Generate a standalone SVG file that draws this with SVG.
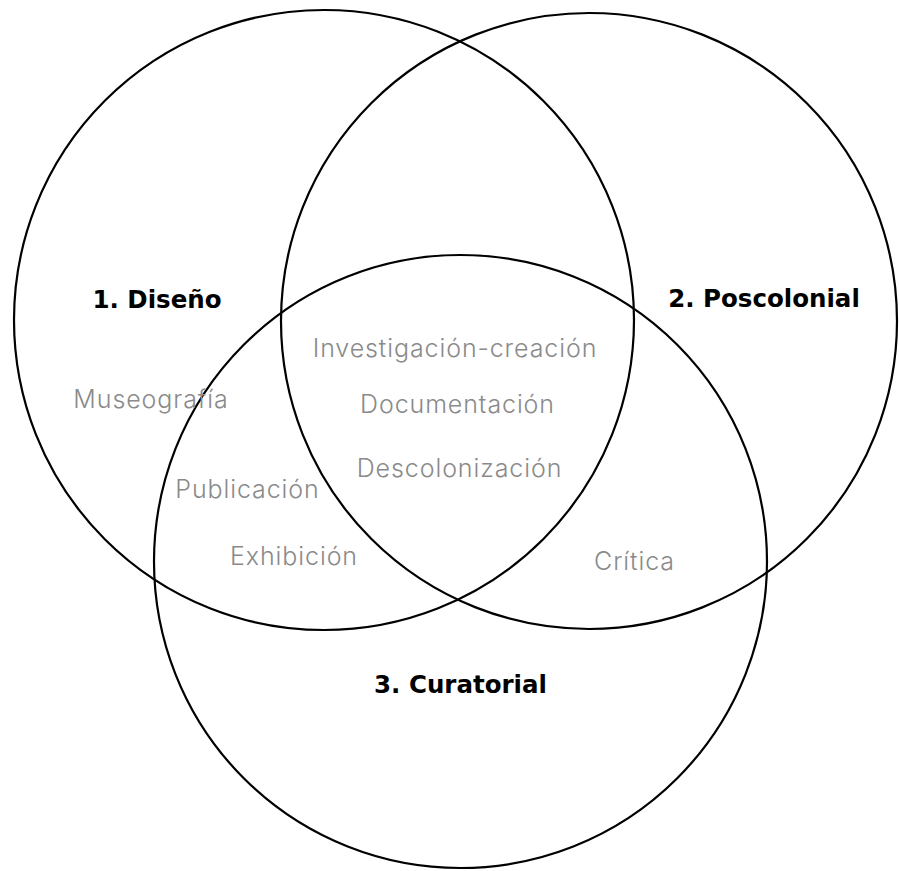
<svg xmlns="http://www.w3.org/2000/svg" width="899" height="871" viewBox="0 0 899 871">
<style>
.c{fill:none;stroke:#000;stroke-width:2.2}
.h{font-family:"DejaVu Sans","Liberation Sans",sans-serif;font-weight:700;font-size:24.5px;fill:#000;text-anchor:middle}
.t{font-family:Inter,"Liberation Sans",sans-serif;font-weight:300;font-size:25px;letter-spacing:0.9px;fill:#8a8a8a;text-anchor:middle}
</style>
<rect width="899" height="871" fill="#fff"/>
<g id="connectors"></g>
<g id="circle-diseno"><circle class="c" cx="324" cy="320" r="310"/></g>
<g id="circle-poscolonial"><circle class="c" cx="589" cy="321" r="308"/></g>
<g id="circle-curatorial"><circle class="c" cx="460.5" cy="561.5" r="306.5"/></g>
<g id="label-diseno"><text class="h" x="157" y="308">1. Diseño</text></g>
<g id="label-poscolonial"><text class="h" x="764" y="307">2. Poscolonial</text></g>
<g id="label-curatorial"><text class="h" x="460.5" y="693">3. Curatorial</text></g>
<g id="item-investigacion"><text class="t" x="455" y="357">Investigación-creación</text></g>
<g id="item-documentacion"><text class="t" x="457.5" y="413">Documentación</text></g>
<g id="item-descolonizacion"><text class="t" x="459.5" y="477">Descolonización</text></g>
<g id="item-museografia"><text class="t" x="151" y="408">Museografía</text></g>
<g id="item-publicacion"><text class="t" x="247.5" y="498">Publicación</text></g>
<g id="item-exhibicion"><text class="t" x="294" y="565">Exhibición</text></g>
<g id="item-critica"><text class="t" x="634.5" y="570">Crítica</text></g>
</svg>
